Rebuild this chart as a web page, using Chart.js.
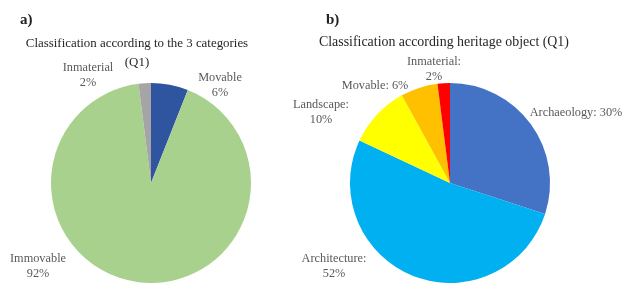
<!DOCTYPE html>
<html>
<head>
<meta charset="utf-8">
<script src="https://cdn.jsdelivr.net/npm/chart.js@4/dist/chart.umd.min.js"></script>
<style>
    body { margin: 0; background: #fff; }
    #wrap { position: relative; width: 624px; height: 283px; overflow: hidden; font-family: "Liberation Serif", serif; }
    canvas { position: absolute; top: 0; }
    .tag { position: absolute; top: 11px; font-size: 15px; font-weight: bold; color: #222; }
    .title { position: absolute; color: #262626; line-height: 19px; white-space: nowrap; }
</style>
</head>
<body>
<div id="wrap">
    <canvas id="pieA" width="270" height="283" style="left:0"></canvas>
    <canvas id="pieB" width="354" height="283" style="left:270px"></canvas>
    <div class="tag" style="left:20px">a)</div>
    <div class="tag" style="left:326px">b)</div>
    <div class="title" style="left:17px; top:34px; width:240px; text-align:center; font-size:12.9px">Classification according to the 3 categories<br>(Q1)</div>
    <div class="title" style="left:319px; top:32px; font-size:13.9px">Classification according heritage object (Q1)</div>
</div>
<script>
// a) three categories
const catA = ["Movable", "Immovable", "Inmaterial"];
const valA = [6, 92, 2];
const colA = ["#2F55A0", "#A9D18E", "#A5A5A5"];

// b) heritage object
const catB = ["Archaeology", "Architecture", "Landscape", "Movable", "Inmaterial"];
const valB = [30, 52, 10, 6, 2];
const colB = ["#4472C4", "#00B0F0", "#FFFF00", "#FFC000", "#FF0000"];

// label placement, offset from pie centre (lines are drawn centred)
const lblA = [
    { dx: 69, dy: -98, lines: (c, v) => [c, v + "%"] },
    { dx: -113, dy: 83, lines: (c, v) => [c, v + "%"] },
    { dx: -63, dy: -108, lines: (c, v) => [c, v + "%"] },
];
const lblB = [
    { dx: 126, dy: -70, lines: (c, v) => [c + ": " + v + "%"] },
    { dx: -116, dy: 83, lines: (c, v) => [c + ":", v + "%"] },
    { dx: -129, dy: -71, lines: (c, v) => [c + ":", v + "%"] },
    { dx: -75, dy: -97, lines: (c, v) => [c + ": " + v + "%"] },
    { dx: -16, dy: -114, lines: (c, v) => [c + ":", v + "%"] },
];

const sliceLabels = {
    id: "sliceLabels",
    afterDatasetsDraw(chart, args, opts) {
        const ctx = chart.ctx;
        const arc = chart.getDatasetMeta(0).data[0];
        const ds = chart.data.datasets[0];
        ctx.save();
        ctx.font = "12.3px 'Liberation Serif'";
        ctx.fillStyle = "#595959";
        ctx.textAlign = "center";
        ctx.textBaseline = "middle";
        opts.items.forEach((it, i) => {
            const lines = it.lines(chart.data.labels[i], ds.data[i]);
            const y0 = arc.y + it.dy - (lines.length - 1) * 7.5;
            lines.forEach((t, k) => ctx.fillText(t, arc.x + it.dx, y0 + k * 15));
        });
        ctx.restore();
    }
};

function makePie(id, cats, vals, cols, items, pad) {
    return new Chart(document.getElementById(id), {
        type: "pie",
        data: {
            labels: cats,
            datasets: [{ data: vals, backgroundColor: cols, borderWidth: 0 }]
        },
        options: {
            responsive: false,
            animation: false,
            layout: { padding: pad },
            plugins: {
                legend: { display: false },
                tooltip: { enabled: false },
                sliceLabels: { items: items }
            }
        },
        plugins: [sliceLabels]
    });
}

makePie("pieA", catA, valA, colA, lblA, { left: 51, right: 19, top: 83, bottom: 0 });
makePie("pieB", catB, valB, colB, lblB, { left: 80, right: 74, top: 83, bottom: 0 });
</script>
</body>
</html>
